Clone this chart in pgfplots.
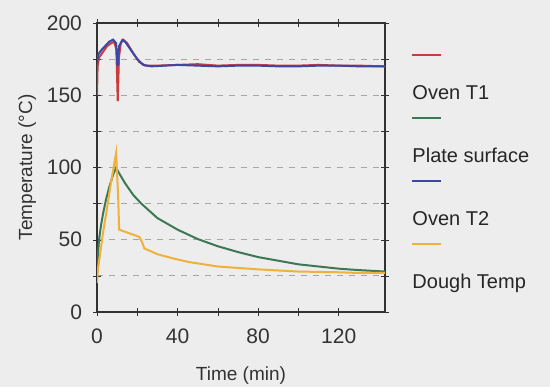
\documentclass[border=0pt]{standalone}
\usepackage{fontspec}
\setmainfont{Liberation Sans}
\usepackage{pgfplots}
\pgfplotsset{compat=1.18}
\definecolor{bg}{RGB}{237,237,237}
\definecolor{cred}{RGB}{200,60,60}
\definecolor{cgreen}{RGB}{60,120,85}
\definecolor{cblue}{RGB}{60,70,165}
\definecolor{corange}{RGB}{238,178,60}
\definecolor{axgray}{RGB}{50,50,50}
\begin{document}
\begin{tikzpicture}
\fill[bg] (-48.5pt,-37.5pt) rectangle (226.5pt,156pt);
\begin{axis}[
  at={(0,0)}, anchor=origin,
  scale only axis, width=144pt, height=144.5pt,
  xmin=0, xmax=143, ymin=0, ymax=200,
  xtick={0,40,80,120}, ytick={0,50,100,150,200},
  minor y tick num=1, minor x tick num=1,
  tick align=center,
  major tick length=4pt, minor tick length=4pt,
  ymajorgrids, yminorgrids,
  major grid style={dashed, gray!70, line width=0.4pt},
  minor grid style={dashed, gray!70, line width=0.4pt},
  axis line style={axgray, line width=0.8pt},
  tick style={axgray},
  font=\fontsize{9.5}{11}\selectfont,
  ticklabel style={font=\fontsize{10.5}{12}\selectfont, text=black!80},
  yticklabel style={xshift=-2pt},
  xticklabel style={yshift=-3pt},
  /pgf/number format/assume math mode=true,
  xlabel={Time (min)}, ylabel={Temperature (°C)},
  label style={font=\fontsize{9.5}{11}\selectfont, text=black!80},
  xlabel style={yshift=-4.5pt},
  ylabel style={yshift=-1.5pt},
  legend style={draw=none, fill=none, at={(1.094,0.786)}, anchor=north west,
    inner sep=0pt, row sep=22.5pt, font=\fontsize{10}{12}\selectfont,
    nodes={inner sep=0pt, text height=7pt, text depth=2pt, text=black!85}},
  legend cell align=left,
  legend image code/.code={\draw[#1,overlay] (0pt,19.5pt) -- (14.5pt,19.5pt);},
]
\addplot[cred, line width=1pt] coordinates {
(0,150) (0.3,170) (1,176) (3,180) (5,184) (7,186) (8.5,187) (9.6,182) (10.3,146) (10.9,176) (11.8,186) (13,188.5) (15,186) (18,179) (21,173) (24,170.5) (30,170.5) (40,171) (50,171.5) (60,170.5) (70,171) (80,171) (90,170.5) (100,170.5) (110,171) (120,170.5) (130,170.5) (143,170)};
\addlegendentry{Oven T1}
\addplot[cgreen, line width=1pt] coordinates {
(0,25) (0.5,40) (1,50) (2,60) (3,68) (4.5,78) (6,86) (8,95) (9.5,100) (11,96) (14,89) (18,81) (22,75) (26,70) (30,65) (40,57) (50,50.5) (60,45.5) (70,41.5) (80,38) (90,35.5) (100,33) (110,31.5) (120,30) (130,29) (143,28)};
\addlegendentry{Plate surface}
\addplot[cblue, line width=1pt] coordinates {
(0,172) (0.5,178) (2,181) (4,184) (6,187) (8,188.5) (9.5,186) (10.2,170) (11,184) (12.5,188) (14,187) (17,181) (20,175) (23,171) (27,170) (40,171) (50,170.5) (60,170) (70,170.5) (80,170.5) (90,170) (100,170) (110,170.5) (120,170.5) (130,170) (143,170)};
\addlegendentry{Oven T2}
\addplot[corange, line width=1pt] coordinates {
(0,20) (0.5,30) (1.5,40) (3,55) (5,72) (7,90) (8.5,102) (9.5,110) (10.5,80) (11,57) (13,56) (17,54) (21,52) (22.5,48) (23.5,44) (26,42.5) (30,40) (38,37) (46,34.5) (60,31.5) (70,30.5) (80,29.5) (100,28) (120,27.5) (130,27) (143,27)};
\addlegendentry{Dough Temp}
\end{axis}
\pgfresetboundingbox
\path (-48.5pt,-37.5pt) rectangle (226.5pt,156pt);
\end{tikzpicture}
\end{document}
